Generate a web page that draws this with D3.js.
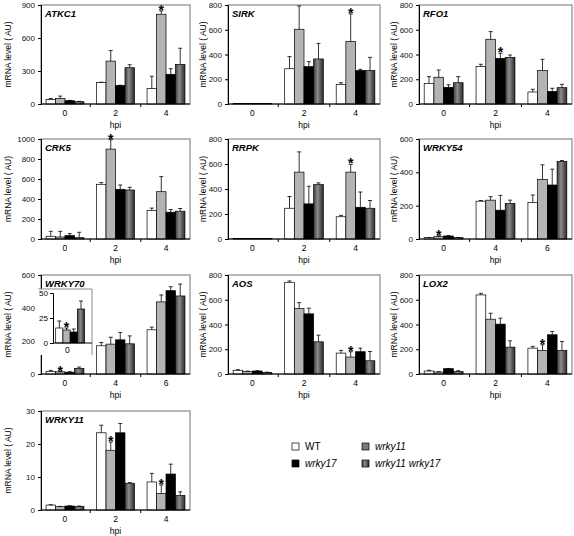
<!DOCTYPE html>
<html><head><meta charset="utf-8">
<script src="https://cdn.jsdelivr.net/npm/d3@7"></script>
<style>body{margin:0;background:#fff} svg{display:block;font-family:"Liberation Sans",Arial,sans-serif}</style>
</head><body><svg id="c" width="574" height="536"></svg>
<script>
// ---------------- data ----------------
const seriesNames = ["WT", "wrky11", "wrky17", "wrky11 wrky17"];
const hpiA = ["0", "2", "4"];
const hpiB = ["0", "4", "6"];

const atkc1Mean = [[42,51,30,21],[195,390,168,330],[141,816,270,360]];
const atkc1Err  = [[8,21,3,3],[3,96,3,27],[111,30,51,147]];
const sirkMean  = [[3,3,3,3],[285,604,302,364],[159,504,270,270]];
const sirkErr   = [[0,0,0,0],[98,188,40,126],[13,224,10,107]];
const rfo1Mean  = [[167,216,135,172],[302,523,369,377],[97,270,102,132]];
const rfo1Err   = [[54,59,21,49],[19,62,41,19],[22,91,25,27]];
const crk5Mean  = [[27,20,34,13],[547,899,497,490],[285,473,268,278]];
const crk5Err   = [[50,57,20,54],[17,94,43,27],[24,151,27,27]];
const rrpkMean  = [[3,3,3,3],[246,535,281,435],[178,535,254,246]];
const rrpkErr   = [[0,0,0,0],[94,162,141,14],[11,62,122,62]];
const wrky54Mean = [[8,14,18,8],[227,233,173,213],[219,358,324,465]];
const wrky54Err  = [[1,6,3,1],[4,21,89,20],[45,87,95,6]];
const wrky70Mean = [[15,13,11,34],[171,181,207,183],[268,437,505,473]];
const wrky70Err  = [[7,2,3,8],[20,42,45,48],[16,42,24,72]];
const aosMean   = [[30,21,24,13],[741,529,486,260],[169,137,180,107]];
const aosErr    = [[5,2,3,2],[11,48,46,54],[22,43,29,75]];
const lox2Mean  = [[24,16,43,19],[639,443,403,217],[209,191,317,191]];
const lox2Err   = [[6,3,2,8],[13,48,48,51],[14,45,27,72]];
const wrky11Mean = [[1.5,1.0,1.2,1.1],[23.4,18.1,23.4,8.1],[8.5,5.0,10.9,4.4]];
const wrky11Err  = [[0.1,0.1,0.1,0.1],[2.3,2.5,2.8,0.2],[2.6,2.6,3.0,1.1]];

const ticks900 = [0,300,600,900];
const ticks800 = [0,200,400,600,800];
const ticks1000 = [0,200,400,600,800,1000];
const ticks600 = [0,200,400,600];
const ticks30 = [0,10,20,30];
const insetTicks = [0,25,50];

// stars: [group index, series index]
const atkc1Stars = [[2,1]];
const sirkStars = [[2,1]];
const rfo1Stars = [[1,2]];
const crk5Stars = [[1,1]];
const rrpkStars = [[2,1]];
const wrky54Stars = [[0,1]];
const wrky70Stars = [[0,1]];
const aosStars = [[2,1]];
const lox2Stars = [[2,1]];
const wrky11Stars = [[1,1],[2,1]];

const panels = [
  {name:"ATKC1", cats:hpiA, mean:atkc1Mean, err:atkc1Err, ticks:ticks900, stars:atkc1Stars, col:0, row:0},
  {name:"SIRK", cats:hpiA, mean:sirkMean, err:sirkErr, ticks:ticks800, stars:sirkStars, col:1, row:0},
  {name:"RFO1", cats:hpiA, mean:rfo1Mean, err:rfo1Err, ticks:ticks800, stars:rfo1Stars, col:2, row:0},
  {name:"CRK5", cats:hpiA, mean:crk5Mean, err:crk5Err, ticks:ticks1000, stars:crk5Stars, col:0, row:1},
  {name:"RRPK", cats:hpiA, mean:rrpkMean, err:rrpkErr, ticks:ticks800, stars:rrpkStars, col:1, row:1},
  {name:"WRKY54", cats:hpiB, mean:wrky54Mean, err:wrky54Err, ticks:ticks600, stars:wrky54Stars, col:2, row:1},
  {name:"WRKY70", cats:hpiB, mean:wrky70Mean, err:wrky70Err, ticks:ticks600, stars:wrky70Stars, col:0, row:2, inset:true},
  {name:"AOS", cats:hpiA, mean:aosMean, err:aosErr, ticks:ticks800, stars:aosStars, col:1, row:2},
  {name:"LOX2", cats:hpiA, mean:lox2Mean, err:lox2Err, ticks:ticks800, stars:lox2Stars, col:2, row:2},
  {name:"WRKY11", cats:hpiA, mean:wrky11Mean, err:wrky11Err, ticks:ticks30, stars:wrky11Stars, col:0, row:3}
];

// ---------------- layout ----------------
const cols = [{x0:41, x1:190, lab:9}, {x0:228, x1:380, lab:204}, {x0:419, x1:572, lab:395}];
const rows = [{y0:5, y1:104}, {y0:139, y1:239}, {y0:275, y1:374}, {y0:411, y1:510}];

const svg = d3.select("#c");
const defs = svg.append("defs");
const grad = defs.append("linearGradient").attr("id","dk").attr("x1","0").attr("x2","1").attr("y1","0").attr("y2","0");
grad.append("stop").attr("offset","0").attr("stop-color","#3c3c3c");
grad.append("stop").attr("offset","0.4").attr("stop-color","#8c8c8c");
grad.append("stop").attr("offset","1").attr("stop-color","#2a2a2a");

const fills = ["#ffffff", "#b4b4b4", "#000000", "url(#dk)"];

function drawBars(g, cats, mean, err, x, y, inner, stars, groups) {
  groups.forEach(gi => {
    seriesNames.forEach((s, si) => {
      const v = mean[gi][si], e = err[gi][si];
      const bx = x(cats[gi]) + inner(s);
      const bw = inner.bandwidth();
      g.append("rect").attr("x", bx).attr("y", y(v)).attr("width", bw)
        .attr("height", y(0) - y(v)).attr("fill", fills[si])
        .attr("stroke", "#000").attr("stroke-width", 0.7);
      const cx = bx + bw / 2;
      if (e > 0) {
        g.append("line").attr("x1", cx).attr("x2", cx).attr("y1", y(v)).attr("y2", y(v + e))
          .attr("stroke", "#000").attr("stroke-width", 0.8);
        g.append("line").attr("x1", cx - 2).attr("x2", cx + 2).attr("y1", y(v + e)).attr("y2", y(v + e))
          .attr("stroke", "#000").attr("stroke-width", 0.8);
      }
    });
  });
  stars.forEach(([gi, si]) => {
    if (!groups.includes(gi)) return;
    const s = seriesNames[si];
    const cx = x(cats[gi]) + inner(s) + inner.bandwidth() / 2;
    const top = y(mean[gi][si] + err[gi][si]);
    g.append("text").attr("x", cx).attr("y", top + 4).attr("text-anchor", "middle")
      .attr("font-size", 14).attr("font-weight", "bold").text("*");
  });
}

panels.forEach(p => {
  const c = cols[p.col], r = rows[p.row];
  const g = svg.append("g");
  const ymax = p.ticks[p.ticks.length - 1];
  const y = d3.scaleLinear().domain([0, ymax]).range([r.y1, r.y0]);
  const x = d3.scaleBand().domain(p.cats).range([c.x0, c.x1]).paddingInner(0.25).paddingOuter(0.1);
  const inner = d3.scaleBand().domain(seriesNames).range([0, x.bandwidth()]);

  // frame
  g.append("rect").attr("x", c.x0).attr("y", r.y0).attr("width", c.x1 - c.x0).attr("height", r.y1 - r.y0)
    .attr("fill", "none").attr("stroke", "#8a8a8a").attr("stroke-width", 1.2);

  drawBars(g, p.cats, p.mean, p.err, x, y, inner, p.stars, [0,1,2]);

  // y axis
  const ya = g.append("g").attr("transform", `translate(${c.x0},0)`)
    .call(d3.axisLeft(y).tickValues(p.ticks).tickFormat(d3.format("d")).tickSize(3).tickPadding(3));
  ya.selectAll("text").attr("font-size", 8).attr("font-family", "Liberation Sans, Arial, sans-serif").attr("fill", "#111");
  ya.select(".domain").attr("stroke", "#000");

  // x axis
  g.append("line").attr("x1", c.x0).attr("x2", c.x1).attr("y1", r.y1).attr("y2", r.y1).attr("stroke", "#000");
  const step = x.step();
  const start = x(p.cats[0]) - x.paddingInner() * step / 2;
  for (let i = 1; i < p.cats.length; i++) {
    const tx = start + i * step;
    g.append("line").attr("x1", tx).attr("x2", tx).attr("y1", r.y1).attr("y2", r.y1 + 3).attr("stroke", "#000");
  }
  p.cats.forEach(cat => {
    g.append("text").attr("x", x(cat) + x.bandwidth() / 2).attr("y", r.y1 + 12)
      .attr("text-anchor", "middle").attr("font-size", 8.5).text(cat);
  });
  g.append("text").attr("x", (c.x0 + c.x1) / 2).attr("y", r.y1 + 24).attr("text-anchor", "middle")
    .attr("font-size", 8.5).text("hpi");

  // y label
  g.append("text").attr("transform", `translate(${c.lab},${(r.y0 + r.y1) / 2}) rotate(-90)`)
    .attr("text-anchor", "middle").attr("dominant-baseline", "middle").attr("font-size", 8.5)
    .text("mRNA level ( AU)");

  // title
  g.append("text").attr("x", c.x0 + 4).attr("y", r.y0 + 12).attr("font-size", 9.5)
    .attr("font-weight", "bold").attr("font-style", "italic").text(p.name);

  if (p.inset) {
    const ix0 = 53, ix1 = 92, iy0 = 293, iy1 = 343;
    g.append("rect").attr("x", 38).attr("y", 289).attr("width", ix1 - 38).attr("height", 66)
      .attr("fill", "#fff").attr("stroke", "none");
    g.append("path").attr("d", `M38,289H${ix1}V355`).attr("fill", "none").attr("stroke", "#8a8a8a").attr("stroke-width", 1);
    const iy = d3.scaleLinear().domain([0, 50]).range([iy1, iy0]);
    const icats = [p.cats[0]];
    const ixs = d3.scaleBand().domain(icats).range([ix0, ix1]).paddingOuter(0.08);
    const iinner = d3.scaleBand().domain(seriesNames).range([0, ixs.bandwidth() * 0.86]);
    const gi = g.append("g");
    drawBars(gi, icats, p.mean, p.err, ixs, iy, iinner, p.stars, [0]);
    const iya = gi.append("g").attr("transform", `translate(${ix0},0)`)
      .call(d3.axisLeft(iy).tickValues(insetTicks).tickSize(3).tickPadding(2));
    iya.selectAll("text").attr("font-size", 8).attr("font-family", "Liberation Sans, Arial, sans-serif");
    gi.append("line").attr("x1", ix0).attr("x2", ix1).attr("y1", iy1).attr("y2", iy1).attr("stroke", "#000");
    gi.append("text").attr("x", ix0 + ixs.bandwidth() * 0.43).attr("y", iy1 + 10).attr("text-anchor", "middle")
      .attr("font-size", 8.5).text(icats[0]);
  }
});

// legend
const legendItems = [
  {s:0, x:292, y:443}, {s:2, x:292, y:460}, {s:1, x:362, y:443}, {s:3, x:362, y:460}
];
const legendFills = ["#ffffff", "#7a7a7a", "#000000", "url(#dk)"];
const lg = svg.append("g");
legendItems.forEach(it => {
  lg.append("rect").attr("x", it.x).attr("y", it.y).attr("width", 7).attr("height", 7)
    .attr("fill", legendFills[it.s]).attr("stroke", "#000").attr("stroke-width", 0.7);
  lg.append("text").attr("x", it.x + 13).attr("y", it.y + 7).attr("font-size", 10)
    .attr("font-style", it.s === 0 ? "normal" : "italic").text(seriesNames[it.s]);
});
</script></body></html>
